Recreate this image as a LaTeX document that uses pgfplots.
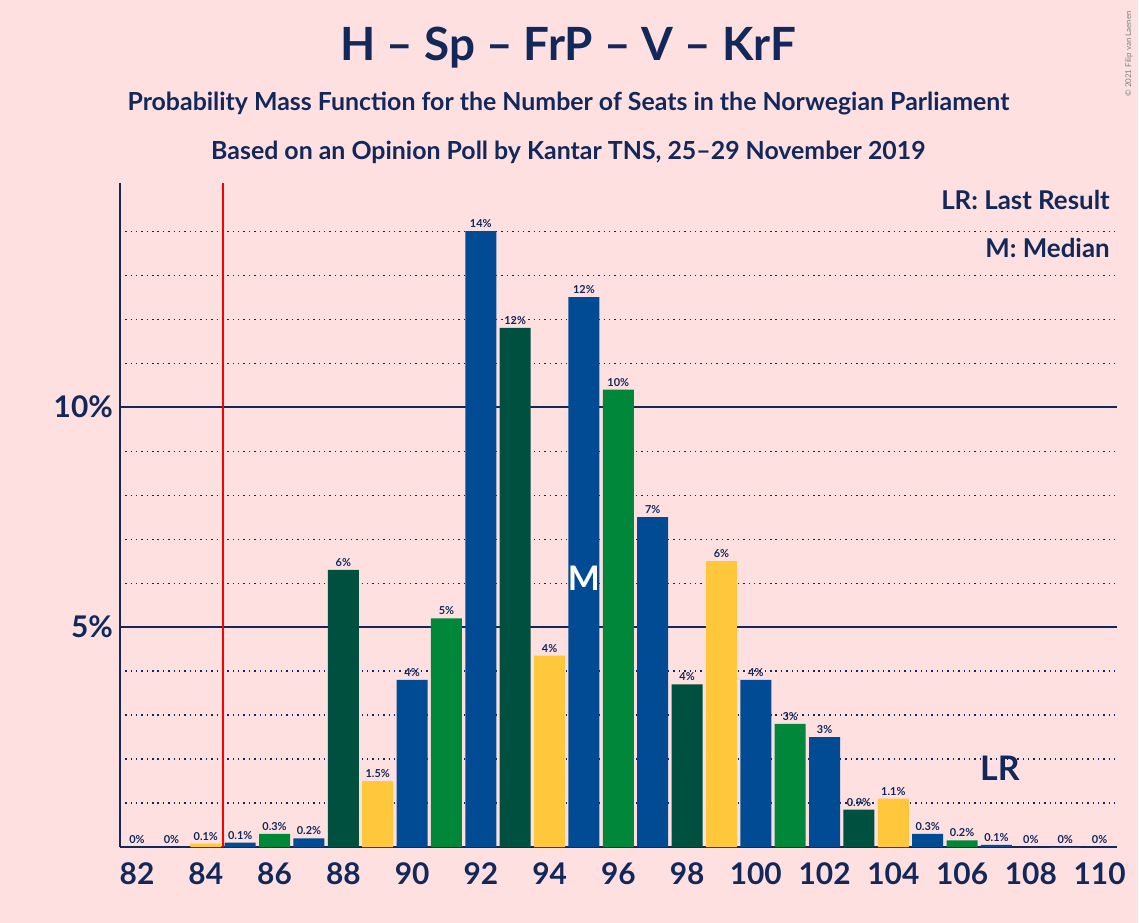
\documentclass[border=0pt]{standalone}
\usepackage{pgfplots}
\pgfplotsset{compat=1.18}
\usepackage{fontspec}
\setmainfont{Lato}
\definecolor{bg}{HTML}{FFE0E0}
\definecolor{tx}{HTML}{12285A}
\definecolor{cb}{HTML}{004B93}
\definecolor{cd}{HTML}{00503F}
\definecolor{cg}{HTML}{00873A}
\definecolor{cy}{HTML}{FFC83C}
\begin{document}
\begin{tikzpicture}[x=1bp,y=1bp]
\fill[bg] (-60,-38) rectangle (509.5,424);
\begin{axis}[at={(0,0)},anchor=origin,scale only axis,width=499bp,height=332.5bp,
 xmin=81.5,xmax=110.5,ymin=0,ymax=15.1,
 axis x line*=bottom, axis y line*=left, axis line style={tx,line width=0.8pt},
 xtick={82,84,...,110}, ytick={5,10}, yticklabels={5\%,10\%},
 tick style={draw=none},
 ticklabel style={text=tx,font=\bfseries\fontsize{15}{16}\selectfont},
 /pgf/number format/assume math mode=true,
 extra y ticks={1,2,3,4,6,7,8,9,11,12,13,14}, extra y tick labels={},
 extra y tick style={grid=major,major grid style={dotted,tx,line width=0.6pt}},
 ymajorgrids, major grid style={tx,line width=0.7pt},
 ybar, bar width=15.5bp, bar shift=0pt,
 nodes near coords, point meta=explicit symbolic,
 every node near coord/.append style={text=tx,font=\bfseries\fontsize{5.5}{6}\selectfont,inner sep=1.5pt},
 clip=false]
\addplot[fill=cb,draw=none] coordinates {(85,0.1)[0.1\%] (87,0.2)[0.2\%] (90,3.8)[4\%] (92,14.0)[14\%] (95,12.5)[12\%] (97,7.5)[7\%] (100,3.8)[4\%] (102,2.5)[3\%] (105,0.3)[0.3\%] (107,0.05)[0.1\%] (110,0)[0\%]};
\addplot[fill=cg,draw=none] coordinates {(86,0.3)[0.3\%] (91,5.2)[5\%] (96,10.4)[10\%] (101,2.8)[3\%] (106,0.15)[0.2\%]};
\addplot[fill=cd,draw=none] coordinates {(83,0)[0\%] (88,6.3)[6\%] (93,11.8)[12\%] (98,3.7)[4\%] (103,0.85)[0.9\%] (108,0)[0\%]};
\addplot[fill=cy,draw=none] coordinates {(84,0.08)[0.1\%] (89,1.5)[1.5\%] (94,4.35)[4\%] (99,6.5)[6\%] (104,1.1)[1.1\%] (109,0)[0\%]};
\addplot[fill=cb,draw=none] coordinates {(82,0)[0\%]};
\draw[red,line width=0.6pt] (axis cs:84.5,0) -- (axis cs:84.5,15.1);
\node[white,font=\bfseries\fontsize{17}{18}\selectfont] at (axis cs:95,6.1) {M};
\node[tx,font=\bfseries\fontsize{17}{18}\selectfont] at (axis cs:107.1,1.8) {LR};
\end{axis}
\node[tx,font=\bfseries\fontsize{23}{24}\selectfont] at (224.5,400) {H – Sp – FrP – V – KrF};
\node[tx,font=\bfseries\fontsize{12.5}{13}\selectfont] at (224.5,372) {Probability Mass Function for the Number of Seats in the Norwegian Parliament};
\node[tx,font=\bfseries\fontsize{12.5}{13}\selectfont] at (224.5,347.5) {Based on an Opinion Poll by Kantar TNS, 25–29 November 2019};
\node[tx,font=\bfseries\fontsize{13}{14}\selectfont,anchor=east] at (499,324) {LR: Last Result};
\node[tx,font=\bfseries\fontsize{13}{14}\selectfont,anchor=east] at (499,300) {M: Median};
\node[gray,font=\fontsize{4}{5}\selectfont,rotate=90,anchor=east] at (505,422) {© 2021 Filip van Laenen};
\end{tikzpicture}
\end{document}
